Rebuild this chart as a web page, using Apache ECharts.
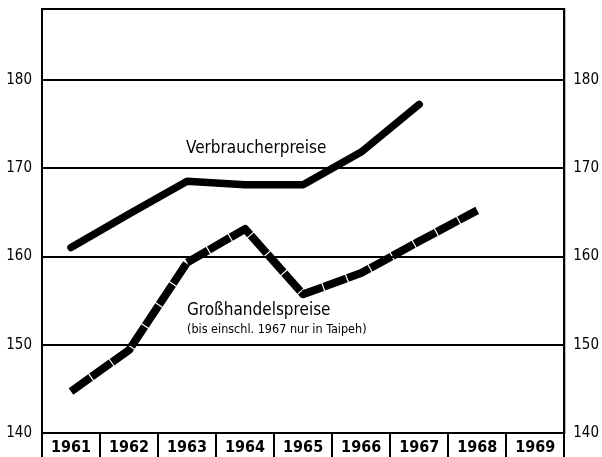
<!DOCTYPE html>
<html>
<head>
<meta charset="utf-8">
<script src="https://cdn.jsdelivr.net/npm/echarts@6/dist/echarts.min.js"></script>
<style>
  html, body { margin: 0; padding: 0; background: #fff; }
  #chart { width: 602px; height: 457px; }
</style>
</head>
<body>
<div id="chart"></div>
<script>
// Jahre (x-Achse)
var years = ['1961', '1962', '1963', '1964', '1965', '1966', '1967', '1968', '1969'];
// Verbraucherpreise, Index
var verbraucher = [161.0, 164.8, 168.5, 168.1, 168.1, 171.8, 177.2, null, null];
// Großhandelspreise, Index (bis einschl. 1967 nur in Taipeh)
var grosshandel = [144.7, 149.4, 159.3, 163.1, 155.7, 158.1, 161.7, 165.2, null];

var font = "'DejaVu Sans Condensed', 'Liberation Sans Narrow', 'Roboto', sans-serif";

var chart = echarts.init(document.getElementById('chart'));

var yBase = {
  type: 'value',
  min: 140,
  max: 188,
  interval: 10,
  axisLine: { show: true, lineStyle: { color: '#000', width: 2 } },
  axisTick: { show: false },
  axisLabel: {
    showMaxLabel: false,
    color: '#000',
    fontFamily: font,
    fontSize: 15
  }
};

chart.setOption({
  animation: false,
  backgroundColor: '#fff',
  grid: {
    left: 42, right: 37, top: 9, bottom: 24,
    show: true, borderColor: '#000', borderWidth: 2
  },
  xAxis: {
    type: 'category',
    data: years,
    boundaryGap: true,
    axisLine: { lineStyle: { color: '#000', width: 2 } },
    axisTick: { show: true, interval: 0, length: 24, lineStyle: { color: '#000', width: 2 } },
    axisLabel: {
      interval: 0,
      margin: 7,
      color: '#000',
      fontFamily: font,
      fontWeight: 'bold',
      fontSize: 16
    },
    splitLine: { show: false }
  },
  yAxis: [
    Object.assign({}, yBase, {
      position: 'left',
      axisLabel: Object.assign({}, yBase.axisLabel, { margin: 10 }),
      splitLine: { show: true, lineStyle: { color: '#000', width: 2 } }
    }),
    Object.assign({}, yBase, {
      position: 'right',
      axisLabel: Object.assign({}, yBase.axisLabel, { margin: 9 }),
      splitLine: { show: false }
    })
  ],
  series: [
    {
      name: 'Verbraucherpreise',
      type: 'line',
      data: verbraucher,
      symbol: 'none',
      lineStyle: { color: '#000', width: 7.5, cap: 'round', join: 'round' }
    },
    {
      name: 'Großhandelspreise',
      type: 'line',
      data: grosshandel,
      symbol: 'none',
      lineStyle: { color: '#000', width: 8, type: [24, 1.2], cap: 'butt', join: 'round' }
    }
  ],
  graphic: [
    {
      type: 'text', left: 186, top: 140,
      style: { text: 'Verbraucherpreise', fontFamily: font, fontSize: 17, fill: '#000' }
    },
    {
      type: 'text', left: 187, top: 302,
      style: { text: 'Großhandelspreise', fontFamily: font, fontSize: 17, fill: '#000' }
    },
    {
      type: 'text', left: 187, top: 323,
      style: { text: '(bis einschl. 1967 nur in Taipeh)', fontFamily: font, fontSize: 12.5, fill: '#000' }
    }
  ]
});
</script>
</body>
</html>
